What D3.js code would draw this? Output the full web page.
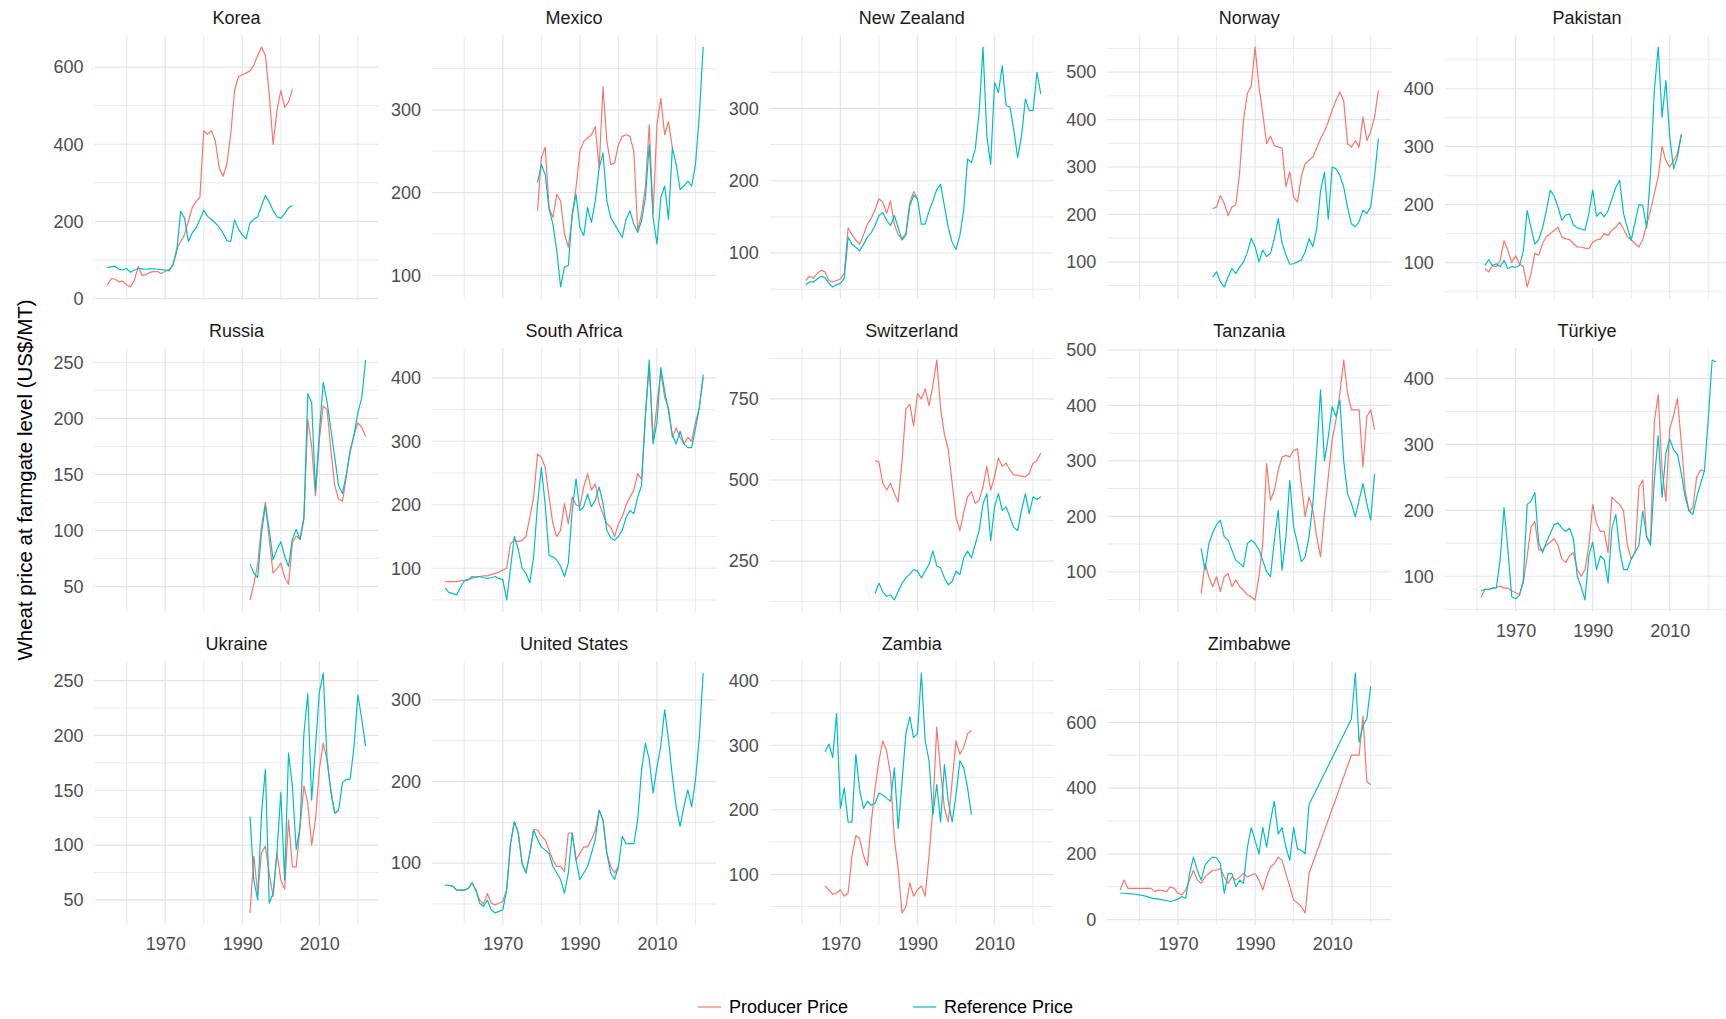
<!DOCTYPE html>
<html>
<head>
<meta charset="utf-8">
<script src="https://cdn.jsdelivr.net/npm/d3@7"></script>
<style>
  body { margin: 0; background: #fff; }
  svg text { font-family: "Liberation Sans", Arial, sans-serif; }
</style>
</head>
<body>
<svg id="chart" width="1726" height="1019"></svg>
<script>
// Wheat price at farmgate level (US$/MT), one panel per country.
// Each series starts at the country's first year; null = no observation.
const _ = null;

const countries = ["Korea", "Mexico", "New Zealand", "Norway", "Pakistan",
  "Russia", "South Africa", "Switzerland", "Tanzania", "Türkiye",
  "Ukraine", "United States", "Zambia", "Zimbabwe"];

const firstYear = [1955, 1979, 1961, 1979, 1962, 1992, 1955, 1979, 1976, 1961, 1992, 1955, 1966, 1955];

const koreaProducer = [35,52,50,43,45,35,30,48,83,60,62,68,70,70,65,71,75,87,130,148,165,200,235,252,262,435,426,435,409,340,317,348,426,540,575,580,585,590,605,630,652,630,530,400,487,539,496,509,543];
const koreaReference = [80,82,84,76,74,78,68,74,78,77,76,77,77,76,75,74,72,87,122,226,209,148,170,183,205,229,213,205,196,185,170,150,148,204,180,165,155,196,205,212,240,268,250,228,212,208,220,235,242];

const mexicoProducer = [178,242,255,182,170,198,190,150,134,170,206,250,262,266,270,280,230,328,262,234,236,258,268,270,268,250,154,174,206,282,174,282,314,270,286,254];
const mexicoReference = [212,234,222,180,162,130,86,110,112,174,198,158,148,182,164,190,230,248,190,170,162,154,146,168,178,162,152,166,194,258,170,138,194,208,168,254,234,204,208,214,208,234,294,376];

const newZealandProducer = [62,68,65,72,76,74,62,60,62,64,72,135,125,118,112,125,140,148,160,175,170,155,172,140,125,120,128,170,185,175];
const newZealandReference = [56,60,60,64,68,66,58,53,56,58,65,122,112,108,103,112,122,128,138,152,156,145,138,152,135,118,125,165,180,175,140,140,158,172,188,195,165,135,115,105,124,160,230,225,244,295,385,262,223,336,322,359,304,302,270,232,262,313,297,297,350,320];

const norwayProducer = [212,216,240,223,198,216,220,290,400,455,470,553,470,412,349,365,345,342,340,258,290,237,226,280,307,314,321,340,360,375,395,420,440,458,440,349,342,356,342,405,356,374,405,461];
const norwayReference = [68,79,58,47,68,86,75,89,100,120,150,132,100,125,111,118,150,191,140,115,95,96,100,104,121,149,132,170,250,289,190,300,296,282,258,215,180,174,185,209,202,216,280,360];

const pakistanProducer = [90,84,95,93,104,138,121,100,112,98,93,58,81,116,113,133,145,150,156,161,144,141,140,133,127,127,125,124,135,139,141,150,147,156,161,170,158,145,139,133,127,140,165,190,219,248,300,276,265,276,288,322];
const pakistanReference = [95,105,95,98,93,104,90,93,92,95,120,190,160,132,140,160,190,225,215,196,173,182,184,165,160,158,156,184,225,180,187,179,190,210,230,242,185,160,139,170,200,199,160,253,397,472,351,414,317,262,282,320];

const russiaProducer = [38,52,70,104,125,92,62,66,71,58,52,89,95,92,113,199,175,131,181,211,208,172,140,128,126,148,172,185,196,192,184];
const russiaReference = [70,62,58,98,122,100,74,83,90,77,68,92,101,92,110,222,214,135,187,232,215,190,165,140,133,150,170,185,205,218,252];

const southAfricaProducer = [79,79,79,79,80,81,82,84,86,87,88,88,90,92,94,97,100,139,144,142,144,150,180,212,280,275,259,212,170,150,160,202,170,212,200,197,228,249,223,233,202,185,170,165,150,170,181,200,212,223,249,240,337,420,301,358,410,369,353,306,321,306,296,306,300,330,353,400];
const southAfricaReference = [69,62,60,58,70,80,82,87,86,87,85,84,85,87,84,82,50,100,150,130,100,92,77,118,200,259,200,120,118,113,103,87,108,191,241,191,197,217,197,207,228,202,160,148,144,150,160,180,191,186,212,230,343,428,296,330,416,379,348,310,296,316,296,290,290,320,353,405];

const switzerlandProducer = [560,555,490,469,490,458,432,560,720,734,667,766,750,781,729,792,870,720,640,594,490,385,344,400,448,464,427,438,479,542,469,510,568,542,552,531,516,514,512,510,521,552,560,583];
const switzerlandReference = [150,182,156,141,146,130,156,182,198,210,224,219,198,219,240,281,235,229,198,177,188,219,208,260,281,260,302,344,427,458,312,417,458,406,417,385,354,344,406,458,396,448,440,448];

const tanzaniaProducer = [61,115,91,73,91,64,91,97,73,85,73,67,58,55,49,91,151,295,229,247,283,307,310,307,319,322,259,199,235,211,163,127,205,271,338,374,422,482,422,392,392,392,289,380,392,356];
const tanzaniaReference = [142,103,150,170,185,193,163,157,139,121,115,109,151,157,151,140,120,100,91,157,211,103,163,265,181,151,118,127,163,223,319,428,300,343,398,380,410,300,240,223,199,229,259,223,193,277];

const turkiyeProducer = [68,80,80,82,83,85,82,82,78,75,72,90,130,175,183,140,140,147,152,157,147,126,121,131,136,110,100,110,147,209,180,168,168,136,220,214,209,199,147,126,136,235,246,160,152,334,376,261,214,324,344,370,303,230,199,204,251,261,260];
const turkiyeReference = [78,80,80,82,82,126,204,140,69,66,71,95,209,214,227,150,136,152,165,178,181,173,168,173,157,100,84,64,131,152,110,131,125,90,173,194,140,110,110,126,136,147,199,160,147,246,313,220,287,308,292,285,256,220,199,194,220,240,260,339,428,425];

const ukraineProducer = [38,90,56,93,99,74,53,93,68,60,123,80,80,117,154,138,100,123,169,193,178,150,129,132];
const ukraineReference = [126,68,50,129,169,47,56,93,148,68,184,154,96,117,202,238,141,190,239,257,178,148,129,132,157,160,160,190,237,215,190];

const unitedStatesProducer = [73,73,72,67,67,67,69,76,67,55,50,63,51,49,51,53,68,124,151,137,100,88,112,141,141,133,129,116,104,96,96,90,137,137,104,112,120,120,129,140,165,153,112,96,88,96];
const unitedStatesReference = [73,73,72,67,67,67,69,76,67,51,47,55,43,39,41,43,67,124,151,137,100,88,112,141,129,120,116,112,96,88,80,63,88,137,104,80,88,96,112,129,165,153,112,88,80,96,133,124,124,124,153,214,247,227,186,218,243,288,251,206,169,145,169,190,169,202,255,333];

const zambiaProducer = [82,76,69,71,76,66,71,129,160,155,129,113,180,234,276,307,291,255,155,108,40,50,87,66,76,82,66,129,202,328,260,202,181,244,307,286,297,318,323];
const zambiaReference = [290,302,281,349,202,234,181,181,286,230,202,213,207,210,226,223,218,213,265,171,244,318,344,312,318,412,307,276,192,239,181,270,213,181,223,276,265,234,192];

const zimbabweProducer = [90,120,95,95,95,95,95,95,95,85,90,88,85,100,95,80,75,90,120,150,120,110,130,140,150,150,155,130,110,130,120,130,140,130,135,140,120,90,130,160,170,190,180,140,100,60,50,40,20,140,
  _,_,_,_,_,_,_,_,_,_, 500,500,500,620,420,410];
const zimbabweReference = [80,80,79,78,77,75,73,70,66,64,62,60,58,55,58,62,70,65,140,190,150,120,165,180,190,188,170,80,140,140,100,120,110,220,280,240,200,280,220,300,360,260,280,220,180,280,215,210,200,350,
  _,_,_,_,_,_,_,_,_,_, 610,750,540,590,610,710];

const producerSeries = [koreaProducer, mexicoProducer, newZealandProducer, norwayProducer, pakistanProducer,
  russiaProducer, southAfricaProducer, switzerlandProducer, tanzaniaProducer, turkiyeProducer,
  ukraineProducer, unitedStatesProducer, zambiaProducer, zimbabweProducer];
const referenceSeries = [koreaReference, mexicoReference, newZealandReference, norwayReference, pakistanReference,
  russiaReference, southAfricaReference, switzerlandReference, tanzaniaReference, turkiyeReference,
  ukraineReference, unitedStatesReference, zambiaReference, zimbabweReference];

// Major y breaks per panel (free y scales)
const yTicks = [
  [0, 200, 400, 600], [100, 200, 300], [100, 200, 300], [100, 200, 300, 400, 500], [100, 200, 300, 400],
  [50, 100, 150, 200, 250], [100, 200, 300, 400], [250, 500, 750], [100, 200, 300, 400, 500], [100, 200, 300, 400],
  [50, 100, 150, 200, 250], [100, 200, 300], [100, 200, 300, 400], [0, 200, 400, 600]
];
const xTicks = [1970, 1990, 2010];
const seriesNames = ["Producer Price", "Reference Price"];
const seriesColors = ["#F8766D", "#00BFC4"];

// ---- layout ----
const svg = d3.select("#chart");
const nCols = 5;
const panelW = 284, panelH = 264;
const colLeft0 = 94.5, colStep = 337.6;
const rowTop0 = 35, rowStep = 313;
const gridColor = "#E4E4E4";

function toPoints(values, start) {
  return values.map((v, k) => ({ year: start + k, value: v })).filter(d => d.value !== null);
}

const allYears = [];
countries.forEach((c, i) => {
  allYears.push(firstYear[i], firstYear[i] + Math.max(producerSeries[i].length, referenceSeries[i].length) - 1);
});
const [yr0, yr1] = d3.extent(allYears);
const xPad = (yr1 - yr0) * 0.05;

countries.forEach((country, i) => {
  const col = i % nCols, row = Math.floor(i / nCols);
  const left = colLeft0 + col * colStep;
  const top = rowTop0 + row * rowStep;
  const bottom = top + panelH;

  const prod = toPoints(producerSeries[i], firstYear[i]);
  const ref = toPoints(referenceSeries[i], firstYear[i]);
  const [vMin, vMax] = d3.extent(prod.concat(ref), d => d.value);
  const yPad = (vMax - vMin) * 0.05;

  const x = d3.scaleLinear().domain([yr0 - xPad, yr1 + xPad]).range([left, left + panelW]);
  const y = d3.scaleLinear().domain([vMin - yPad, vMax + yPad]).range([bottom, top]);

  const g = svg.append("g").attr("class", "panel");

  // minor grid: midpoints between major breaks
  const yt = yTicks[i];
  const step = yt[1] - yt[0];
  const yMinor = d3.range(yt[0] - step / 2, yt[yt.length - 1] + step, step)
    .filter(v => v >= y.domain()[0] && v <= y.domain()[1]);
  const xMinor = [1960, 1980, 2000, 2020];

  g.append("g").selectAll("line").data(yMinor).join("line")
    .attr("x1", left).attr("x2", left + panelW)
    .attr("y1", d => y(d)).attr("y2", d => y(d))
    .attr("stroke", gridColor).attr("stroke-width", 0.8);
  g.append("g").selectAll("line").data(xMinor).join("line")
    .attr("x1", d => x(d)).attr("x2", d => x(d))
    .attr("y1", top).attr("y2", bottom)
    .attr("stroke", gridColor).attr("stroke-width", 0.8);

  const yMajor = yt.filter(v => v >= y.domain()[0] && v <= y.domain()[1]);
  g.append("g").selectAll("line").data(yMajor).join("line")
    .attr("x1", left).attr("x2", left + panelW)
    .attr("y1", d => y(d)).attr("y2", d => y(d))
    .attr("stroke", gridColor).attr("stroke-width", 1.2);
  g.append("g").selectAll("line").data(xTicks).join("line")
    .attr("x1", d => x(d)).attr("x2", d => x(d))
    .attr("y1", top).attr("y2", bottom)
    .attr("stroke", gridColor).attr("stroke-width", 1.2);

  // y axis labels
  const yAxis = d3.axisLeft(y).tickValues(yMajor).tickSize(0).tickPadding(11);
  const ya = g.append("g").attr("transform", `translate(${left},0)`).call(yAxis);
  ya.select(".domain").remove();
  ya.selectAll("text").attr("font-size", 18).attr("fill", "#4D4D4D")
    .style("font-family", '"Liberation Sans", Arial, sans-serif');

  // x axis labels only on the lowest panel of each column
  if (i + nCols >= countries.length) {
    const xAxis = d3.axisBottom(x).tickValues(xTicks).tickFormat(d3.format("d")).tickSize(0).tickPadding(12);
    const xa = g.append("g").attr("transform", `translate(0,${bottom})`).call(xAxis);
    xa.select(".domain").remove();
    xa.selectAll("text").attr("font-size", 18).attr("fill", "#4D4D4D")
      .style("font-family", '"Liberation Sans", Arial, sans-serif');
  }

  // strip title
  g.append("text").attr("x", left + panelW / 2).attr("y", top - 11)
    .attr("text-anchor", "middle").attr("font-size", 18).attr("fill", "#1A1A1A")
    .text(country);

  // series lines
  const line = d3.line().x(d => x(d.year)).y(d => y(d.value));
  [prod, ref].forEach((pts, s) => {
    g.append("path").datum(pts)
      .attr("d", line)
      .attr("fill", "none")
      .attr("stroke", seriesColors[s])
      .attr("stroke-width", 1.2)
      .attr("stroke-linejoin", "round");
  });
});

// y axis title
svg.append("text")
  .attr("transform", "translate(24,480) rotate(-90)")
  .attr("text-anchor", "middle").attr("dominant-baseline", "central")
  .attr("font-size", 20.5).attr("fill", "#000")
  .text("Wheat price at farmgate level (US$/MT)");

// legend
const legendX = [698, 913];
const legend = svg.append("g").attr("class", "legend");
seriesNames.forEach((name, s) => {
  legend.append("line")
    .attr("x1", legendX[s]).attr("x2", legendX[s] + 23)
    .attr("y1", 1007).attr("y2", 1007)
    .attr("stroke", seriesColors[s]).attr("stroke-width", 1.2);
  legend.append("text")
    .attr("x", legendX[s] + 31).attr("y", 1007).attr("dy", "0.35em")
    .attr("font-size", 18).attr("fill", "#000")
    .text(name);
});
</script>
</body>
</html>
